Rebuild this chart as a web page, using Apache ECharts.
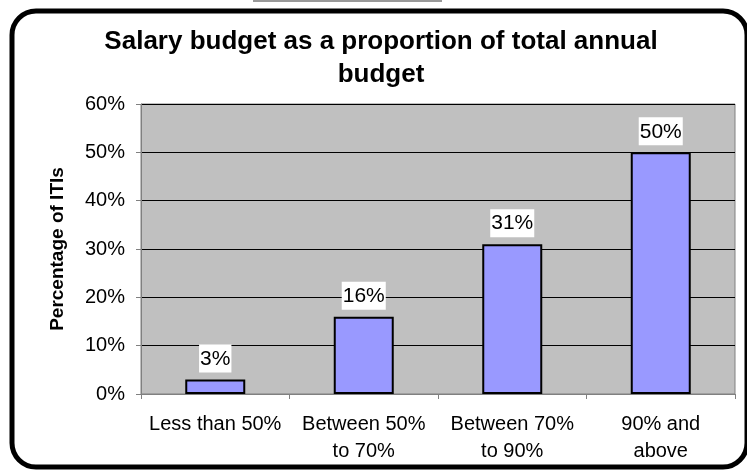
<!DOCTYPE html>
<html>
<head>
<meta charset="utf-8">
<script src="https://cdn.jsdelivr.net/npm/echarts@6/dist/echarts.min.js"></script>
<style>
  html, body { margin: 0; padding: 0; background: #fff; }
  #chart { width: 747px; height: 472px; }
</style>
</head>
<body>
<div id="chart"></div>
<script>
var categories = ['Less than 50%', 'Between 50%\nto 70%', 'Between 70%\nto 90%', '90% and\nabove'];
var shares = [3, 16, 31, 50];
var yTicks = [0, 10, 20, 30, 40, 50, 60];

var FONT = 'Liberation Sans, Arial, sans-serif';
var myChart = echarts.init(document.getElementById('chart'));
var option = {
    backgroundColor: '#fff',
    animation: false,
    title: {
        text: 'Salary budget as a proportion of total annual\nbudget',
        left: 376,
        top: 20,
        textAlign: 'center',
        textStyle: {
            fontFamily: FONT,
            fontSize: 26,
            fontWeight: 'bold',
            color: '#000',
            lineHeight: 33
        }
    },
    graphic: [
        {
            type: 'rect',
            z: -10,
            shape: { x: 12, y: 11, width: 735, height: 456, r: 24 },
            style: { fill: '#fff', stroke: '#000', lineWidth: 5 }
        },
        {
            type: 'line',
            z: -11,
            shape: { x1: 253, y1: 1, x2: 442, y2: 1 },
            style: { stroke: '#999', lineWidth: 2 }
        }
    ],
    grid: {
        left: 141,
        right: 12,
        top: 104,
        bottom: 78,
        show: true,
        backgroundColor: '#c0c0c0',
        borderColor: '#808080',
        borderWidth: 1
    },
    xAxis: {
        type: 'category',
        data: categories,
        axisLine: { lineStyle: { color: '#808080' } },
        axisTick: { show: true, length: 5, lineStyle: { color: '#808080' } },
        axisLabel: {
            color: '#000',
            fontFamily: FONT,
            fontSize: 20,
            lineHeight: 27,
            margin: 17,
            interval: 0
        }
    },
    yAxis: {
        type: 'value',
        min: 0,
        max: 60,
        interval: 10,
        name: 'Percentage of ITIs',
        nameLocation: 'middle',
        nameGap: 74,
        nameTextStyle: {
            fontFamily: FONT,
            fontSize: 19,
            fontWeight: 'bold',
            color: '#000'
        },
        axisLine: { show: true, lineStyle: { color: '#808080' } },
        axisTick: { show: true, length: 5, lineStyle: { color: '#808080' } },
        splitLine: { lineStyle: { color: '#000', width: 1 } },
        axisLabel: {
            color: '#000',
            fontFamily: FONT,
            fontSize: 20,
            margin: 16,
            formatter: function (v) { return yTicks.indexOf(v) >= 0 ? v + '%' : ''; }
        }
    },
    series: [{
        type: 'bar',
        data: shares,
        barWidth: 60,
        itemStyle: { color: '#9999ff', borderColor: '#000', borderWidth: 2 },
        label: {
            show: true,
            position: 'top',
            distance: 7,
            color: '#000',
            fontFamily: FONT,
            fontSize: 21,
            backgroundColor: '#fff',
            padding: [4, 1, 3, 1],
            formatter: '{c}%'
        }
    }]
};
myChart.setOption(option);
</script>
</body>
</html>
